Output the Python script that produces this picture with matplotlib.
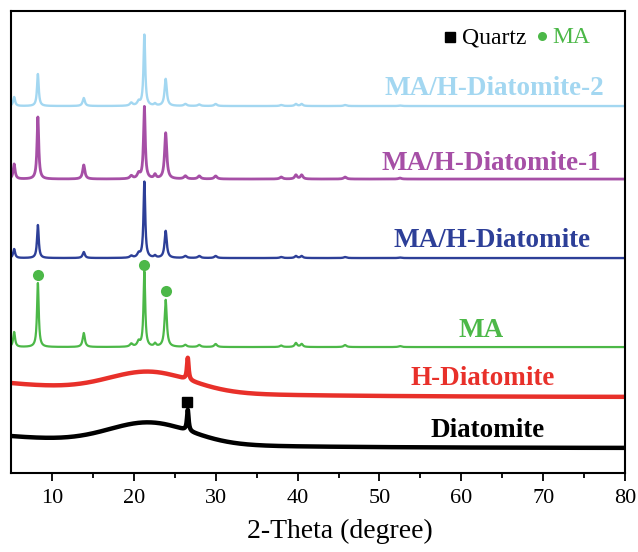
import numpy as np
import matplotlib
matplotlib.use("Agg")
import matplotlib.pyplot as plt

plt.rcParams['font.family'] = ['Liberation Serif', 'DejaVu Serif']

# 2-theta grid
two_theta = np.arange(5, 80.001, 0.02)

# MA reflections (degree) and widths
ma_pos = [5.4, 8.3, 13.9, 19.7, 20.6, 21.3, 22.6, 23.9, 26.3, 28.0, 30.0, 38.0, 39.8, 40.5, 45.8, 52.5]
ma_wid = [0.28, 0.25, 0.32, 0.4, 0.4, 0.25, 0.3, 0.32, 0.4, 0.4, 0.4, 0.4, 0.35, 0.35, 0.4, 0.4]

# peak heights (same units as the offsets below)
h_ma2 = [9, 32, 8, 3, 4, 71, 2, 27, 2, 1.5, 2, 1, 2, 2, 1, 0.5]
h_ma1 = [15, 62, 14, 3, 5, 72, 4, 46, 3, 3, 3, 2, 4, 4, 2, 1]
h_mah = [9, 33, 6, 2, 4, 76, 2, 27, 2, 2, 2, 1, 2, 2, 1, 0.5]
h_ma = [15, 64, 14, 3, 5, 75, 3, 47, 2, 2, 3, 1.5, 4, 3, 2, 1]

# trace offsets (baselines)
off_ma2 = 367
off_ma1 = 294
off_mah = 215
off_ma = 126

# amorphous silica: [floor, left rise, rise decay, hump centre, hump height, hump sigma]
bg_hd = [76, 14, 18, 22.0, 20, 5.0]
bg_d = [25, 12, 18, 22.0, 21, 5.0]
# quartz reflection
qz_pos = 26.6
qz_hd = 22
qz_d = 21

colors = {'ma2': '#a3d7f1', 'ma1': '#a64fa6', 'mah': '#2d3f98',
          'ma': '#4cb848', 'hd': '#e8302a', 'd': '#000000'}


def peaks(x, pos, hts, wid):
    y = np.zeros_like(x)
    for p, h, w in zip(pos, hts, wid):
        y += h / (1 + ((x - p) / (w / 2)) ** 2)
    return y


def amorphous(x, bg, qz):
    floor, rise, dec, c, hh, s = bg
    y = floor + rise * np.exp(-(x - 5) / dec) + hh * np.exp(-(x - c) ** 2 / (2 * s ** 2))
    y += qz / (1 + ((x - qz_pos) / 0.12) ** 2)
    return y


fig = plt.figure(figsize=(6.38, 5.52), dpi=100)
ax = fig.add_axes([0.017, 0.143, 0.963, 0.837])

ax.plot(two_theta, amorphous(two_theta, bg_d, qz_d), color=colors['d'], lw=3.2)
ax.plot(two_theta, amorphous(two_theta, bg_hd, qz_hd), color=colors['hd'], lw=3.2)
ax.plot(two_theta, off_ma + peaks(two_theta, ma_pos, h_ma, ma_wid), color=colors['ma'], lw=1.6)
ax.plot(two_theta, off_mah + peaks(two_theta, ma_pos, h_mah, ma_wid), color=colors['mah'], lw=1.7)
ax.plot(two_theta, off_ma1 + peaks(two_theta, ma_pos, h_ma1, ma_wid), color=colors['ma1'], lw=2.0)
ax.plot(two_theta, off_ma2 + peaks(two_theta, ma_pos, h_ma2, ma_wid), color=colors['ma2'], lw=1.7)

# phase markers
ax.plot([8.3, 21.2, 23.9], [198, 208, 182], 'o', color=colors['ma'], ms=8, mec='none')
ax.plot([26.5], [71], 's', color='black', ms=6.5)

# sample labels
lab_kw = dict(ha='center', va='center', fontsize=19.5, fontweight='bold')
ax.text(64.0, 385, 'MA/H-Diatomite-2', color=colors['ma2'], **lab_kw)
ax.text(63.7, 310, 'MA/H-Diatomite-1', color=colors['ma1'], **lab_kw)
ax.text(63.7, 233, 'MA/H-Diatomite', color=colors['mah'], **lab_kw)
ax.text(62.4, 143, 'MA', color=colors['ma'], **lab_kw)
ax.text(62.6, 95, 'H-Diatomite', color=colors['hd'], **lab_kw)
ax.text(63.2, 43, 'Diatomite', color=colors['d'], **lab_kw)

# legend
ax.plot([0.714], [0.943], 's', color='black', ms=6.5, transform=ax.transAxes, clip_on=False)
ax.text(0.734, 0.942, 'Quartz', color='black', fontsize=17, va='center', transform=ax.transAxes)
ax.plot([0.864], [0.946], 'o', color=colors['ma'], ms=6.5, mec='none', transform=ax.transAxes)
ax.text(0.882, 0.942, 'MA', color=colors['ma'], fontsize=17, va='center', transform=ax.transAxes)

ax.set_xlim(5, 80)
ax.set_ylim(0, 462)
ax.set_yticks([])
ax.set_xticks([10, 20, 30, 40, 50, 60, 70, 80])
ax.set_xticks([15, 25, 35, 45, 55, 65, 75], minor=True)
ax.tick_params(axis='x', which='major', length=5.5, width=1.3, labelsize=16, pad=6, direction='out')
ax.tick_params(axis='x', which='minor', length=3.5, width=1.3, direction='out')
for s in ax.spines.values():
    s.set_linewidth(1.5)
ax.set_xlabel('2-Theta (degree)', fontsize=20, labelpad=14)
ax.xaxis.set_label_coords(0.536, -0.1)
ax.xaxis.label.set_va('top')

fig.savefig('out.png', dpi=100)
